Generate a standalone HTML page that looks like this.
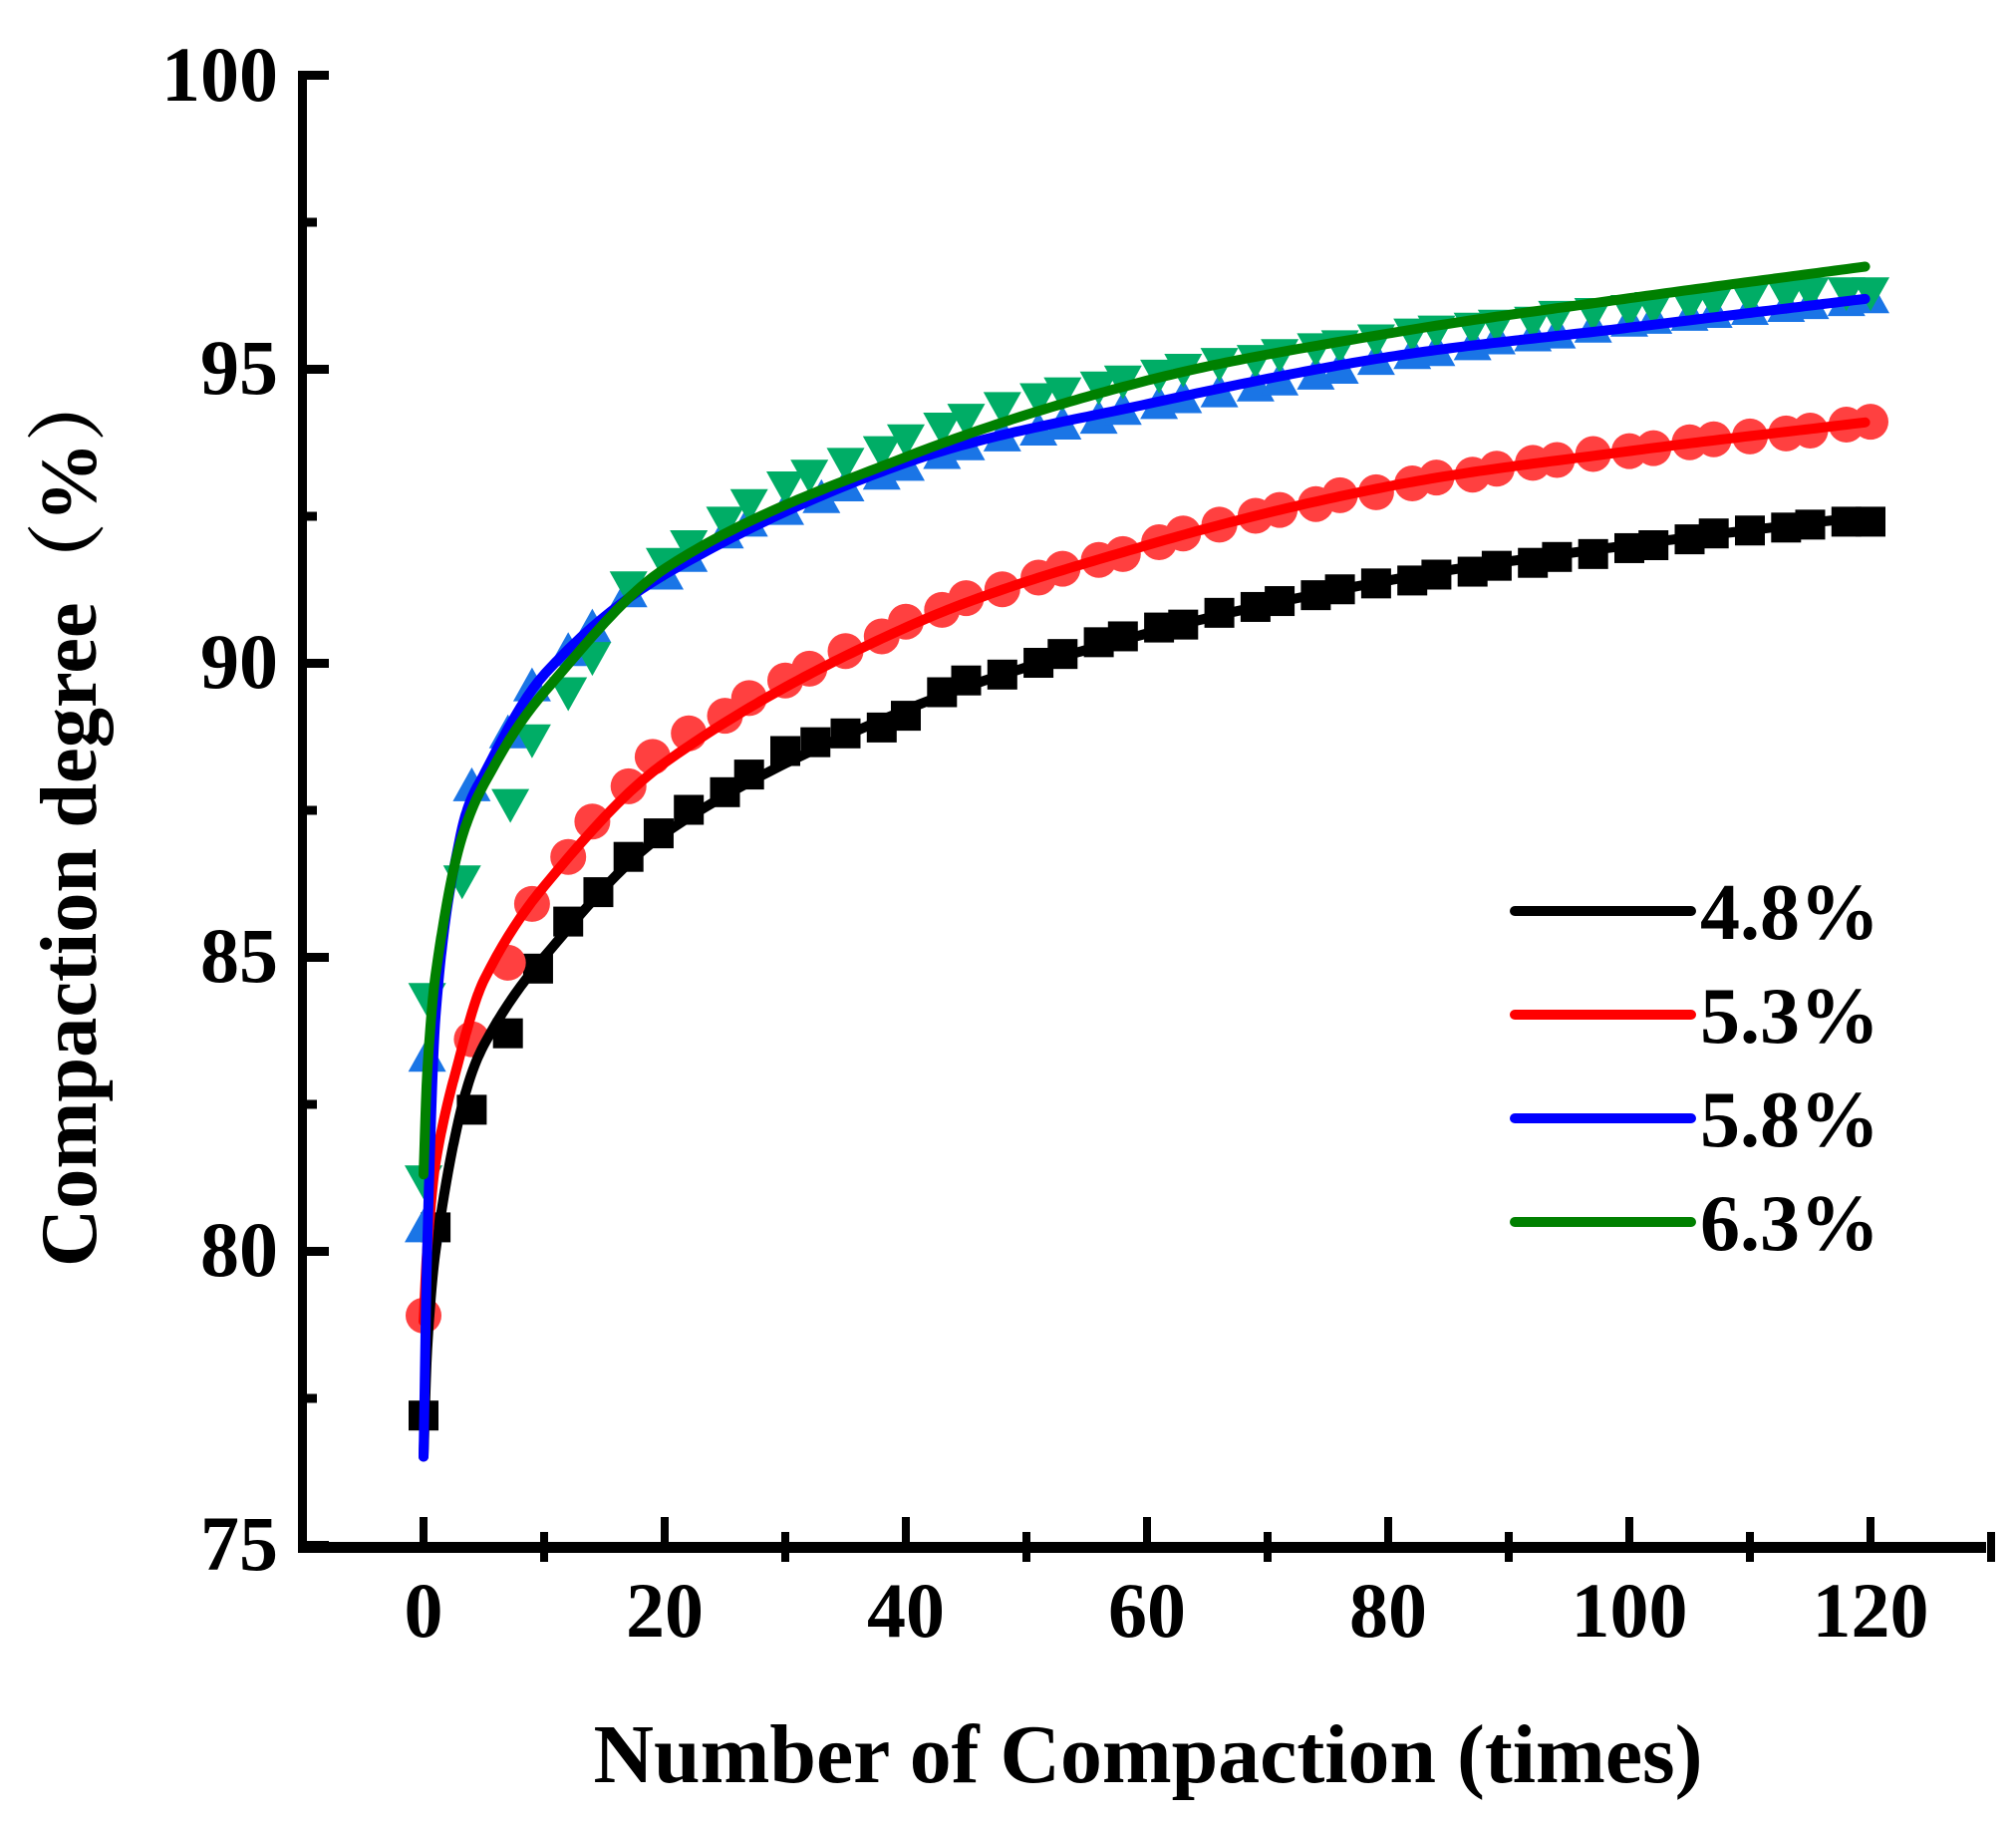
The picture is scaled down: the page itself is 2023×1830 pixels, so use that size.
<!DOCTYPE html>
<html><head><meta charset="utf-8"><style>
html,body{margin:0;padding:0;background:#fff;}
svg{display:block;}
text{font-family:"Liberation Serif","Noto Serif CJK SC",serif;font-weight:bold;fill:#000;}
</style></head><body>
<svg id="s" width="2023" height="1830" viewBox="0 0 2023 1830" xmlns="http://www.w3.org/2000/svg">
<g id="marks"></g>
<g id="lines" fill="none" stroke-width="10" stroke-linecap="round" stroke-linejoin="round"></g>
<g id="axes"></g>
<g font-size="78">
<text x="279" y="101" text-anchor="end">100</text>
<text x="279" y="395" text-anchor="end">95</text>
<text x="279" y="690" text-anchor="end">90</text>
<text x="279" y="985" text-anchor="end">85</text>
<text x="279" y="1280" text-anchor="end">80</text>
<text x="279" y="1575" text-anchor="end">75</text>
<text x="425" y="1642" text-anchor="middle">0</text>
<text x="667" y="1642" text-anchor="middle">20</text>
<text x="909" y="1642" text-anchor="middle">40</text>
<text x="1151" y="1642" text-anchor="middle">60</text>
<text x="1393" y="1642" text-anchor="middle">80</text>
<text x="1635" y="1642" text-anchor="middle">100</text>
<text x="1877" y="1642" text-anchor="middle">120</text>
</g>
<text x="1152" y="1788" font-size="84" text-anchor="middle" textLength="1113" lengthAdjust="spacingAndGlyphs">Number of Compaction (times)</text>
<text transform="translate(96,817) rotate(-90)" font-size="80" text-anchor="middle" textLength="908" lengthAdjust="spacingAndGlyphs">Compaction degree（%）</text>
<g stroke-width="10" stroke-linecap="round">
<line x1="1520" y1="914" x2="1697" y2="914" stroke="#000"/>
<line x1="1520" y1="1018" x2="1697" y2="1018" stroke="#f00"/>
<line x1="1520" y1="1122" x2="1697" y2="1122" stroke="#00f"/>
<line x1="1520" y1="1226" x2="1697" y2="1226" stroke="#008000"/>
</g>
<g font-size="80">
<text x="1706" y="942">4.8%</text>
<text x="1706" y="1046">5.3%</text>
<text x="1706" y="1150">5.8%</text>
<text x="1706" y="1254">6.3%</text>
</g>
</svg>
<script>
var NS="http://www.w3.org/2000/svg";
function X(x){return 425+12.1*x;}
function Y(y){return 75+(100-y)*59.0;}
function el(p,t,a){var e=document.createElementNS(NS,t);for(var k in a)e.setAttribute(k,a[k]);p.appendChild(e);return e;}
var ax=document.getElementById('axes');
el(ax,'rect',{x:299,y:71,width:9,height:1486,fill:'#000'});
el(ax,'rect',{x:299,y:1547,width:1694,height:11,fill:'#000'});
for(var i=0;i<=10;i++){var yy=71+i*147.5;var major=i%2==0;el(ax,'rect',{x:299,y:yy,width:major?31:19,height:9,fill:'#000'});}
for(var i=0;i<=13;i++){var xx=X(i*10);var major=i%2==0;el(ax,'rect',{x:xx-4,y:major?1522:1537,width:8,height:30,fill:'#000'});}
function interp(pts,x){for(var i=0;i<pts.length-1;i++){if(x<=pts[i+1][0]){var p0=pts[Math.max(0,i-1)],p1=pts[i],p2=pts[i+1],p3=pts[Math.min(pts.length-1,i+2)];var t=(x-p1[0])/(p2[0]-p1[0]);
var m1=(p2[1]-p0[1])/(p2[0]-p0[0])*(p2[0]-p1[0]),m2=(p3[1]-p1[1])/(p3[0]-p1[0])*(p2[0]-p1[0]);
var t2=t*t,t3=t2*t;return (2*t3-3*t2+1)*p1[1]+(t3-2*t2+t)*m1+(-2*t3+3*t2)*p2[1]+(t3-t2)*m2;}}return pts[pts.length-1][1];}
var curves={
k:[[0,76.5],[0.3,78.3],[1,80],[3,82.3],[5,83.5],[10,85.0],[20,87.1],[40,89.2],[60,90.5],[80,91.4],[100,92.0],[120,92.5]],
r:[[0,78.8],[0.3,80],[1,81.5],[3,83.3],[5,84.6],[10,86.2],[20,88.3],[40,90.6],[60,92.0],[80,93.0],[100,93.6],[120,94.1]],
b:[[0,76.5],[0.3,80],[1,84.0],[3,87],[5,88.1],[10,89.8],[20,91.5],[40,93.4],[60,94.4],[80,95.2],[100,95.7],[120,96.2]],
g:[[0,81.3],[0.3,83],[1,84.7],[3,86.9],[6,88.3],[10,89.5],[20,91.6],[40,93.5],[60,94.8],[80,95.6],[100,96.2],[120,96.75]]};
var data={
k:[[0,77.2],[1,80.4],[4,82.4],[7,83.7],[9.5,84.8],[12,85.6],[14.5,86.1],[17,86.7],[19.5,87.1],[22,87.5],[25,87.8],[27,88.1],[30,88.5],[32.5,88.65],[35,88.8],[38,88.9],[40,89.1],[43,89.5],[45,89.7],[48,89.8],[51,90.0],[53,90.15],[56,90.35],[58,90.45],[61,90.6],[63,90.65],[66,90.85],[69,90.95],[71,91.05],[74,91.15],[76,91.25],[79,91.35],[82,91.4],[84,91.5],[87,91.55],[89,91.65],[92,91.7],[94,91.8],[97,91.85],[100,91.95],[102,92.0],[105,92.1],[107,92.2],[110,92.25],[113,92.3],[115,92.35],[118,92.4],[120,92.4]],
r:[[0,78.9],[4,83.6],[7,84.9],[9,85.9],[12,86.7],[14,87.3],[17,87.9],[19,88.4],[22,88.8],[25,89.1],[27,89.4],[30,89.7],[32,89.9],[35,90.2],[38,90.45],[40,90.7],[43,90.9],[45,91.1],[48,91.25],[51,91.45],[53,91.6],[56,91.75],[58,91.85],[61,92.05],[63,92.2],[66,92.35],[69,92.5],[71,92.6],[74,92.7],[76,92.85],[79,92.9],[82,93.05],[84,93.15],[87,93.2],[89,93.3],[92,93.4],[94,93.45],[97,93.55],[100,93.6],[102,93.65],[105,93.75],[107,93.8],[110,93.85],[113,93.9],[115,93.95],[118,94.05],[120,94.1]],
b:[[0,80.4],[0.3,83.3],[4,87.9],[7,88.8],[9,89.6],[12,90.2],[14,90.6],[17,91.2],[20,91.5],[22,91.8],[25,92.2],[27,92.4],[30,92.6],[33,92.8],[35,93.0],[38,93.2],[40,93.35],[43,93.55],[45,93.7],[48,93.85],[51,93.95],[53,94.05],[56,94.15],[58,94.3],[61,94.4],[63,94.5],[66,94.6],[69,94.7],[71,94.8],[74,94.9],[76,95.0],[79,95.15],[82,95.25],[84,95.3],[87,95.4],[89,95.5],[92,95.55],[94,95.6],[97,95.7],[100,95.8],[102,95.85],[105,95.9],[107,95.95],[110,96.0],[113,96.05],[115,96.1],[118,96.15],[120,96.2]],
g:[[0,81.2],[0.3,84.3],[3.2,86.3],[7.2,87.6],[9,88.7],[12,89.5],[14,90.1],[17,91.3],[20,91.7],[22,92.0],[25,92.4],[27,92.7],[30,93.0],[32,93.2],[35,93.4],[38,93.6],[40,93.8],[43,94.0],[45,94.15],[48,94.35],[51,94.5],[53,94.6],[56,94.7],[58,94.8],[61,94.9],[63,95.0],[66,95.1],[69,95.15],[71,95.25],[74,95.35],[76,95.4],[79,95.5],[82,95.6],[84,95.65],[87,95.7],[89,95.75],[92,95.8],[94,95.9],[97,95.95],[100,96.0],[102,96.05],[105,96.1],[107,96.15],[110,96.2],[113,96.25],[115,96.3],[118,96.3],[120,96.3]]};
var mk=document.getElementById('marks');
data.k.forEach(function(p){el(mk,'rect',{x:X(p[0])-15,y:Y(p[1])-15,width:30,height:30,fill:'#000'});});
data.r.forEach(function(p){el(mk,'circle',{cx:X(p[0]),cy:Y(p[1]),r:18,fill:'#ff4040'});});
data.b.forEach(function(p){var x=X(p[0]),y=Y(p[1]);el(mk,'polygon',{points:(x-19)+','+(y+15)+' '+(x+19)+','+(y+15)+' '+x+','+(y-19),fill:'#1a75e6'});});
data.g.forEach(function(p){var x=X(p[0]),y=Y(p[1]);el(mk,'polygon',{points:(x-19)+','+(y-15)+' '+(x+19)+','+(y-15)+' '+x+','+(y+19),fill:'#00ad66'});});
var ln=document.getElementById('lines');
var cols={k:'#000',r:'#f00',b:'#00f',g:'#008000'};
['k','r','b','g'].forEach(function(c){var d='';for(var x=0;x<=120.001;x+=(x<5?0.05:0.5)){d+=(d?'L':'M')+X(x).toFixed(1)+','+Y(interp(curves[c],x)).toFixed(1);}el(ln,'path',{d:d,stroke:cols[c]});});
</script>
</body></html>
